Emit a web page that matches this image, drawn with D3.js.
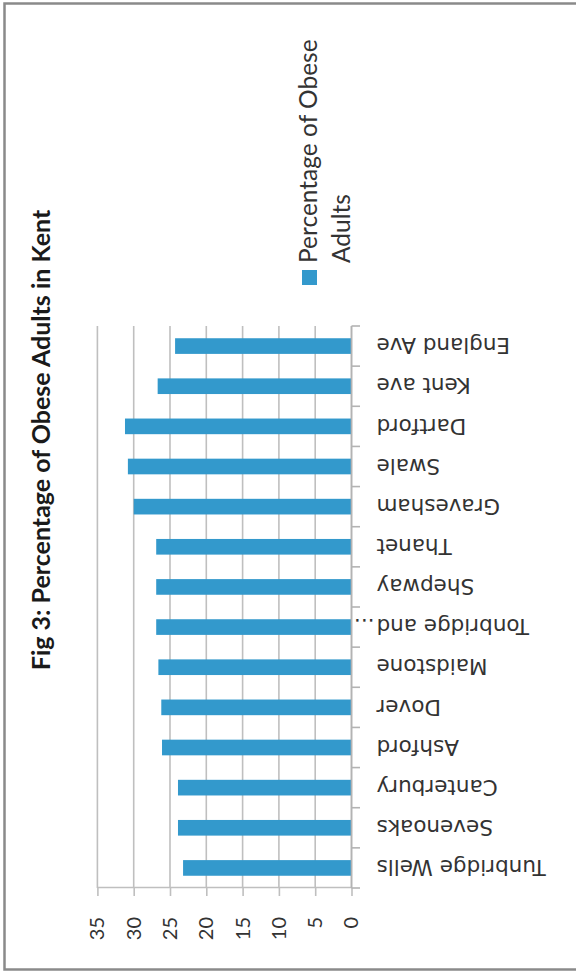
<!DOCTYPE html>
<html>
<head>
<meta charset="utf-8">
<script src="https://cdn.jsdelivr.net/npm/d3@7"></script>
<style>
  html, body { margin: 0; padding: 0; background: #fff; }
  svg { display: block; }
</style>
</head>
<body>
<div id="chart"></div>
<script>
// Obesity prevalence by Kent district (percentage of adults)
const title = "Fig 3: Percentage of Obese Adults in Kent";
const categories = [
  "Tunbridge Wells", "Sevenoaks", "Canterbury", "Ashford", "Dover",
  "Maidstone", "Tonbridge and...", "Shepway", "Thanet", "Gravesham",
  "Swale", "Dartford", "Kent ave", "England Ave"
];
const obesePct = [23.2, 23.9, 23.9, 26.1, 26.2, 26.6, 26.9, 26.9, 26.9, 30.0, 30.8, 31.2, 26.7, 24.3];
const valueTicks = [0, 5, 10, 15, 20, 25, 30, 35];
const seriesName = ["Percentage of Obese", "Adults"];

const W = 576, H = 974;
const barColor = "#3399cc";
const gridColor = "#bfbfbf";
const textColor = "#333";
const labelFont = "'DejaVu Sans', Verdana, sans-serif";
const labelSize = 21.5;

const svg = d3.select("#chart").append("svg")
  .attr("width", W).attr("height", H);

svg.append("rect").attr("width", W).attr("height", H).attr("fill", "#fff");

// outer frame
svg.append("rect")
  .attr("x", 4.5).attr("y", 3.5)
  .attr("width", 620).attr("height", 966)
  .attr("fill", "none").attr("stroke", "#8a8a8a").attr("stroke-width", 2.5);

// The column chart is laid out upright, then turned a quarter turn
// counter-clockwise so the columns run right-to-left across the page.
const g = svg.append("g").attr("transform", `translate(0,${H}) rotate(-90)`);

const plotLeft = 86, plotRight = 648;
const x = d3.scaleBand()
  .domain(categories)
  .range([plotLeft, plotRight])
  .paddingInner(0.61)
  .paddingOuter(0.305);
const y = d3.scaleLinear().domain([0, 35]).range([351.5, 97.4]);

// horizontal gridlines
g.append("g").selectAll("line")
  .data(valueTicks)
  .join("line")
  .attr("x1", plotLeft).attr("x2", plotRight)
  .attr("y1", d => y(d)).attr("y2", d => y(d))
  .attr("stroke", gridColor).attr("stroke-width", 1.6);

// value axis
const yAxis = g.append("g")
  .attr("transform", `translate(${plotLeft},0)`)
  .call(d3.axisLeft(y).tickValues(valueTicks).tickSize(8).tickSizeOuter(0).tickPadding(21));
yAxis.select(".domain").attr("stroke", gridColor).attr("stroke-width", 1.6);
yAxis.selectAll(".tick line").attr("stroke", gridColor).attr("stroke-width", 1.6);
yAxis.selectAll(".tick text")
  .attr("font-family", "Lato, 'Open Sans', sans-serif")
  .attr("font-size", 20)
  .attr("fill", textColor);

// bars
g.append("g").selectAll("rect")
  .data(categories.map((c, i) => ({ c, v: obesePct[i] })))
  .join("rect")
  .attr("x", d => x(d.c))
  .attr("width", x.bandwidth())
  .attr("y", d => y(d.v))
  .attr("height", d => y(0) - y(d.v))
  .attr("fill", barColor);

// category axis: baseline plus ticks at band boundaries
const step = x.step();
g.append("line")
  .attr("x1", plotLeft).attr("x2", plotRight)
  .attr("y1", y(0)).attr("y2", y(0))
  .attr("stroke", "#b3b3b3").attr("stroke-width", 1.6);
g.append("g").selectAll("line")
  .data(d3.range(categories.length + 1))
  .join("line")
  .attr("x1", i => plotLeft + i * step).attr("x2", i => plotLeft + i * step)
  .attr("y1", y(0)).attr("y2", y(0) + 8.5)
  .attr("stroke", "#b3b3b3").attr("stroke-width", 1.6);

// category labels, turned to run along the columns
const xAxis = g.append("g")
  .attr("transform", `translate(0,${y(0)})`)
  .call(d3.axisBottom(x).tickSize(0).tickPadding(0));
xAxis.select(".domain").remove();
xAxis.selectAll(".tick text")
  .text(d => d.endsWith("...") ? d.slice(0, -3) : d)
  .attr("transform", "rotate(-90)")
  .attr("x", -25).attr("y", 0).attr("dy", "0.36em")
  .style("text-anchor", "end")
  .attr("font-family", labelFont)
  .attr("font-size", labelSize)
  .attr("fill", textColor);
xAxis.selectAll(".tick").filter(d => d.endsWith("..."))
  .append("text")
  .text("...")
  .attr("transform", "rotate(-90)")
  .attr("x", -23).attr("y", 0).attr("dy", "0.36em")
  .style("text-anchor", "start")
  .attr("font-family", labelFont)
  .attr("font-size", labelSize)
  .attr("fill", textColor);

// chart title
g.append("text")
  .attr("x", 534).attr("y", 50)
  .attr("text-anchor", "middle")
  .attr("font-family", "Lato, 'Open Sans', sans-serif")
  .attr("font-weight", "bold")
  .attr("font-size", 25)
  .attr("fill", "#1a1a1a")
  .text(title);

// legend
const legend = g.append("g");
legend.append("rect")
  .attr("x", 689).attr("y", 302).attr("width", 15).attr("height", 15)
  .attr("fill", barColor);
legend.selectAll("text")
  .data(seriesName)
  .join("text")
  .attr("x", 711)
  .attr("y", (d, i) => 317 + i * 33)
  .attr("font-family", "Lato, 'Open Sans', sans-serif")
  .attr("font-size", 24.5)
  .attr("fill", textColor)
  .text(d => d);
</script>
</body>
</html>
